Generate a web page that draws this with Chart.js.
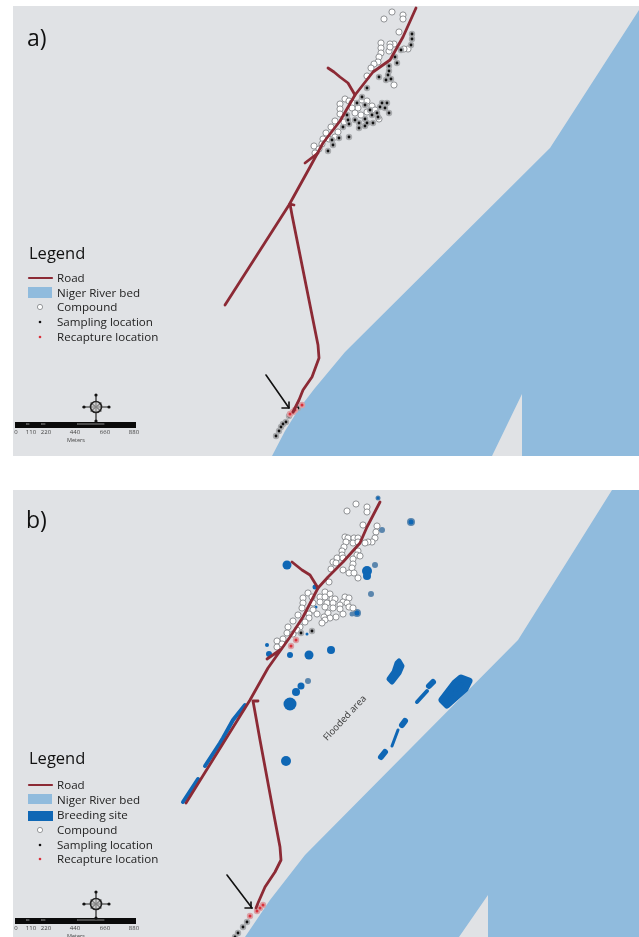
<!DOCTYPE html>
<html><head><meta charset="utf-8">
<script src="https://cdn.jsdelivr.net/npm/chart.js@4"></script>
<style>html,body{margin:0;padding:0;background:#fff;overflow:hidden}canvas{display:block;filter:blur(0.45px)}</style>
</head><body><canvas id="c" width="639" height="937"></canvas>
<script>
// ---- Map data, in map units ----
const panelA = [[13,6],[639,6],[639,456],[13,456]];
const panelB = [[13,490],[639,490],[639,937],[13,937]];
const riverA = [[639,10],[550,148],[345,352],[315,388],[298,410],[285,431],[272,456],[492,456],[522,394],[522,456],[639,456]];
const riverB = [[612,490],[639,490],[639,937],[488,937],[488,895],[459,937],[245,937],[270,900],[305,855],[518,640]];

const roadA1 = [[416,8],[403,37],[390,60],[373,72],[355,95],[340,121],[323,143],[310,167],[289,205],[225,305]];
const roadA2 = [[328,68],[334,72],[340,77],[348,83],[355,95]];
const roadA3 = [[305,163],[318,153]];
const roadA4 = [[294,205],[290,204],[292,215],[318,345],[319,358],[312,377],[303,390],[299,400],[293,412]];
const roadB1 = [[380,502],[367,527],[360,543],[343,562],[328,577],[318,588],[303,617],[290,637],[268,668],[250,700],[186,803]];
const roadB2 = [[292,562],[302,570],[310,575],[318,588]];
const roadB3 = [[267,659],[280,650]];
const roadB4 = [[258,701],[253,701],[255,712],[260,740],[273,810],[280,847],[281,860],[275,872],[265,887],[258,903],[256,908]];

const compoundsA = [[392,12],[384,19],[403,15],[403,19],[399,32],[408,49],[404,49],[394,44],[390,44],[389,51],[390,47],[381,43],[381,48],[381,53],[379,57],[378,62],[374,64],[371,68],[367,76],[394,85],[345,99],[349,101],[340,104],[340,109],[340,114],[335,121],[331,127],[326,133],[323,139],[322,144],[314,146],[319,149],[315,153],[362,100],[367,101],[372,106],[358,108],[352,103],[352,108],[367,112],[361,115],[379,119],[338,132],[344,122],[329,139],[335,137],[355,113],[375,110]];
const samplingA = [[412,34],[412,39],[411,45],[401,50],[395,57],[397,63],[389,66],[389,71],[388,75],[379,77],[391,79],[386,80],[367,88],[362,97],[357,103],[365,105],[370,110],[382,103],[387,103],[380,107],[385,108],[389,113],[377,113],[372,115],[378,117],[347,115],[348,120],[355,120],[343,127],[349,124],[365,119],[359,123],[359,128],[367,123],[373,123],[365,126],[339,138],[349,137],[332,140],[333,145],[328,151],[276,436],[279,431],[281,427],[283,424],[286,422],[289,416],[298,408]];
const recaptureA = [[290,414],[295,410],[302,405],[293,412]];

const compoundsB = [[356,504],[347,511],[367,507],[367,512],[363,525],[377,526],[376,532],[375,538],[372,542],[368,542],[365,543],[345,537],[348,538],[354,538],[358,538],[346,542],[353,543],[358,542],[344,547],[342,551],[342,555],[337,558],[343,558],[333,562],[336,563],[331,569],[358,551],[357,555],[360,556],[353,559],[353,564],[352,568],[343,570],[349,573],[354,573],[358,578],[329,582],[325,592],[330,594],[308,593],[312,597],[303,598],[320,597],[325,597],[332,599],[335,599],[345,597],[349,598],[343,602],[347,603],[320,602],[327,603],[333,603],[340,605],[303,603],[313,603],[325,607],[333,608],[340,609],[349,607],[353,608],[302,608],[313,610],[343,614],[328,613],[317,614],[298,615],[309,614],[309,618],[336,617],[330,618],[324,617],[325,620],[322,623],[293,621],[305,622],[300,627],[288,627],[297,630],[287,633],[293,634],[283,639],[277,641],[277,647],[282,644]];
const samplingB = [[301,633],[312,631],[247,922],[243,927],[238,933],[235,937]];
const recaptureB = [[296,640],[291,646],[250,916],[257,911],[263,905],[260,908]];

const siteBig = [[461,678],[469,681],[465,689],[447,705],[442,700],[455,683]];
const siteLong = [[399,661],[402,666],[399,673],[392,682],[389,679],[394,672],[397,663]];
const siteStrokes = [
  {w:4,pts:[[245,705],[233,720],[223,738],[220,743],[205,766]]},
  {w:4,pts:[[198,779],[183,802]]},
  {w:6,pts:[[433,682],[429,686]]},
  {w:4,pts:[[427,691],[417,702]]},
  {w:6,pts:[[405,721],[402,725]]},
  {w:3,pts:[[398,730],[392,746]]},
  {w:6,pts:[[385,752],[381,757]]}
];
const blobsDark = [[290,704,6.5],[296,692,4],[301,686,3.5],[286,761,5],[331,650,4],[309,655,4.5],[290,655,3],[267,645,2],[269,654,3],[287,565,4.5],[315,587,2.5],[367,571,5],[367,576,4],[316,607,1.5],[307,634,1.5],[411,522,2.5],[357,613,2.5],[378,498,1.5]];
const blobsPale = [[308,681,3],[378,498,2.5],[411,522,4],[382,530,3],[375,565,3],[371,594,3],[357,613,4],[352,614,2.5],[276,654,2]];

const arrowA = [[266,375],[289,408]];
const arrowHeadA = [[282,408],[289,408],[289,402]];
const arrowB = [[227,875],[252,908]];
const arrowHeadB = [[245,908],[252,908],[251,902]];

const scaleTicks = ["0","110","220","440","660","880"];
const scaleTickX = [16,31,46,75,105,134];
const legendA = ["Road","Niger River bed","Compound","Sampling location","Recapture location"];
const legendAY = [278,293,307,322,337];
const legendB = ["Road","Niger River bed","Breeding site","Compound","Sampling location","Recapture location"];
const legendBY = [785,800,815,830,845,859];

// ---- Dataset helpers ----
const xy = a => a.map(p => ({x:p[0],y:p[1]}));
const layers = [];
const PANEL='#e0e2e5', RIVER='#90bbdd', SITE='#0f67b5', ROAD='#8c2a35', GREY='#a9abae';
const poly = (pts,c,round) => layers.push({data:xy(pts),closedFill:c,roundEdge:round||0,showLine:false,pointRadius:0});
const line = (pts,c,w) => layers.push({data:xy(pts),showLine:true,borderColor:c,borderWidth:w,pointRadius:0,tension:0,borderCapStyle:'round',borderJoinStyle:'round'});
const dots = (pts,fill,r,edge,ew) => layers.push({data:xy(pts),showLine:false,backgroundColor:fill,borderColor:edge||fill,borderWidth:ew||0,pointRadius:r,pointStyle:'circle'});

poly(panelA,PANEL); poly(panelB,PANEL);
poly(riverA,RIVER); poly(riverB,RIVER);

// legend swatches
poly([[28,287],[52,287],[52,298],[28,298]],RIVER);
poly([[28,794],[52,794],[52,804],[28,804]],RIVER);
poly([[28,811],[53,811],[53,821],[28,821]],SITE);

// breeding sites
poly(siteBig,SITE,7); poly(siteLong,SITE,5);
siteStrokes.forEach(s => line(s.pts,SITE,s.w));
layers.push({data:blobsPale.map(b=>({x:b[0],y:b[1]})),showLine:false,backgroundColor:'#5b86ad',borderWidth:0,pointRadius:blobsPale.map(b=>b[2])});
layers.push({data:blobsDark.map(b=>({x:b[0],y:b[1]})),showLine:false,backgroundColor:SITE,borderWidth:0,pointRadius:blobsDark.map(b=>b[2])});

// points
[[compoundsA,samplingA,recaptureA],[compoundsB,samplingB,recaptureB]].forEach(([c,s,r])=>{
  dots(c,'#ffffff',3.1,'#85878a',0.9);
  dots(s,GREY,3.2); dots(s,'#111111',1.4);
  dots(r,'#dba0a5',3.2); dots(r,'#d9303a',1.5);
});

// roads
[roadA1,roadA2,roadA3,roadA4,roadB1,roadB2,roadB3,roadB4].forEach(r=>line(r,ROAD,2.8));

// arrows
[arrowA,arrowHeadA,arrowB,arrowHeadB].forEach(a=>line(a,'#111111',1.6));

// legend symbols
line([[29,278],[52,278]],ROAD,2.2); line([[29,785],[52,785]],ROAD,2.2);
dots([[40,307],[40,830]],'#ffffff',2.6,'#8a8c8f',0.9);
dots([[40,322],[40,845]],'#111111',1.3);
dots([[40,337],[40,859]],'#d9303a',1.3);

// scale bars and compasses
[[422,407],[918,904]].forEach(([yb,yc])=>{
  poly([[15,yb],[136,yb],[136,yb+6],[15,yb+6]],'#0a0a0a');
  line([[26,yb+2],[29,yb+2]],'#8a8a8a',1);
  line([[41,yb+2],[45,yb+2]],'#8a8a8a',1);
  line([[77,yb+2],[104,yb+2]],'#8a8a8a',1);
  line([[83,yc],[109,yc]],'#222222',1.2);
  line([[96,yc-12],[96,yc+15]],'#222222',1.2);
  line([[91,yc-4],[101,yc+4]],'#222222',1.2);
  line([[101,yc-4],[91,yc+4]],'#222222',1.2);
  dots([[96,yc]],'rgba(200,200,200,0.6)',5.5,'#222222',1.6);
  dots([[84,yc],[109,yc],[96,yc-12],[96,yc+14]],'#111111',1.6);
});
layers.reverse();

// ---- Plugins: closed polygons and map text, placed through the scales ----
const polygons = {id:'polygons',beforeDatasetDraw(chart,args){
  const ds = chart.data.datasets[args.index];
  if(!ds.closedFill) return;
  const {x,y} = chart.scales, g = chart.ctx;
  g.save(); g.beginPath();
  ds.data.forEach((p,i)=>{const X=x.getPixelForValue(p.x),Y=y.getPixelForValue(p.y); i?g.lineTo(X,Y):g.moveTo(X,Y);});
  g.closePath(); g.fillStyle=ds.closedFill; g.fill();
  if(ds.roundEdge){g.strokeStyle=ds.closedFill;g.lineJoin='round';g.lineWidth=ds.roundEdge;g.stroke();}
  g.restore();
}};
const FONT='"Open Sans"';
const labels = {id:'labels',afterDatasetsDraw(chart){
  const {x,y} = chart.scales, g = chart.ctx;
  const t=(s,X,Y,size,col,al,rot)=>{g.save();g.translate(x.getPixelForValue(X),y.getPixelForValue(Y));if(rot)g.rotate(rot);
    g.font=size+'px '+FONT;g.fillStyle=col;g.textAlign=al||'left';g.textBaseline='alphabetic';g.fillText(s,0,0);g.restore();};
  t('a)',27,46,23,'#111111'); t('b)',26,528,23,'#111111');
  t('Legend',29,259,16.5,'#111111'); t('Legend',29,764,16.5,'#111111');
  legendA.forEach((s,i)=>t(s,57,legendAY[i]+4,11.6,'#222222'));
  legendB.forEach((s,i)=>t(s,57,legendBY[i]+4,11.6,'#222222'));
  [[434],[930]].forEach(([Y])=>{
    scaleTicks.forEach((s,i)=>t(s,scaleTickX[i],Y,6,'#444444','center'));
    t('Meters',76,Y+8,5.5,'#444444','center');
  });
  t('Flooded area',347,720,9.5,'#3c3c3c','center',-47*Math.PI/180);
}};

new Chart(document.getElementById('c'),{
  type:'scatter',
  data:{datasets:layers},
  plugins:[polygons,labels],
  options:{responsive:false,animation:false,devicePixelRatio:1,layout:{padding:0,autoPadding:false},
    plugins:{legend:{display:false},tooltip:{enabled:false}},
    scales:{x:{type:'linear',min:0,max:639,display:false},y:{type:'linear',min:0,max:937,reverse:true,display:false}}}
});
</script></body></html>
